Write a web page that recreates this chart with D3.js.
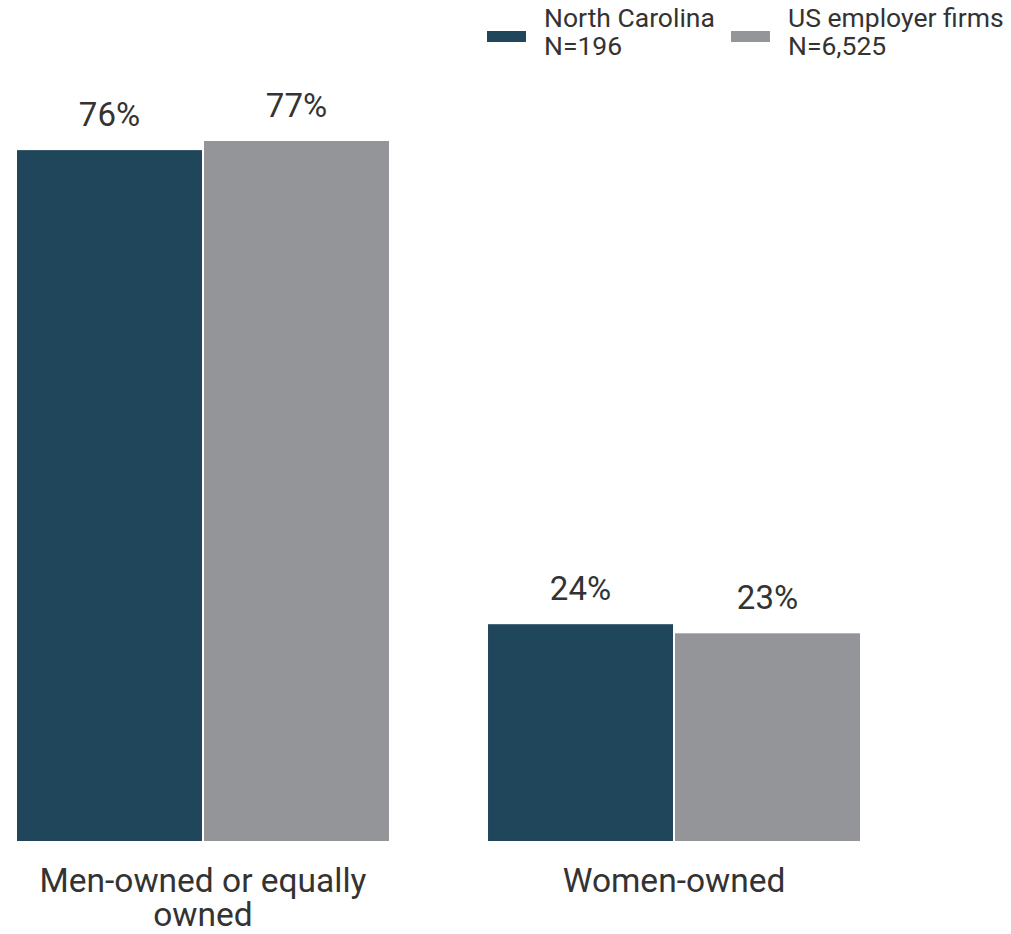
<!DOCTYPE html>
<html>
<head>
<meta charset="utf-8">
<script src="https://cdn.jsdelivr.net/npm/d3@7"></script>
<style>
  html, body { margin: 0; padding: 0; background: #fff; }
  svg { display: block; }
</style>
</head>
<body>
<svg id="chart" width="1011" height="934"></svg>
<script>
const categories = [["Men-owned or equally", "owned"], ["Women-owned"]];
const categoryKeys = ["Men-owned or equally owned", "Women-owned"];
const seriesNames = ["North Carolina", "US employer firms"];
const seriesN = ["N=196", "N=6,525"];
const northCarolina = [76, 24];
const usEmployerFirms = [77, 23];
const colors = ["#20465c", "#939598"];

const svg = d3.select("#chart");
const series = [northCarolina, usEmployerFirms];

const x0 = d3.scaleBand().domain(categoryKeys).range([16, 861]).paddingInner(0.206).paddingOuter(0);
const x1 = d3.scaleBand().domain(seriesNames).range([0, x0.bandwidth()]);
const y = d3.scaleLinear().domain([0, 77]).range([842, 140]);

const groups = svg.selectAll("g.grp").data(categoryKeys).join("g")
  .attr("class", "grp")
  .attr("transform", d => `translate(${x0(d)},0)`);

groups.each(function(cat, ci) {
  const g = d3.select(this);
  seriesNames.forEach((s, si) => {
    const v = series[si][ci];
    g.append("rect")
      .attr("x", x1(s))
      .attr("y", y(v))
      .attr("width", x1.bandwidth())
      .attr("height", y(0) - y(v))
      .attr("fill", colors[si])
      .attr("stroke", "#fff")
      .attr("stroke-width", 2);
    g.append("text")
      .attr("x", x1(s) + x1.bandwidth() / 2)
      .attr("y", y(v) - 23)
      .attr("text-anchor", "middle")
      .attr("font-family", "Roboto, sans-serif")
      .attr("font-size", 33)
      .attr("fill", "#333")
      .text(v + "%");
  });
  const lbl = g.append("text")
    .attr("x", x0.bandwidth() / 2)
    .attr("y", 892)
    .attr("text-anchor", "middle")
    .attr("font-family", "Roboto, sans-serif")
    .attr("font-size", 33.5)
    .attr("fill", "#333");
  categories[ci].forEach((line, li) => {
    lbl.append("tspan").attr("x", x0.bandwidth() / 2).attr("dy", li === 0 ? 0 : 34).text(line);
  });
});

// Legend
const legendX = [487, 731];
seriesNames.forEach((s, i) => {
  const lg = svg.append("g").attr("transform", `translate(${legendX[i]},0)`);
  lg.append("rect").attr("x", 0).attr("y", 31).attr("width", 39).attr("height", 11).attr("fill", colors[i]);
  const t = lg.append("text")
    .attr("x", 57).attr("y", 27)
    .attr("font-family", "Roboto, sans-serif")
    .attr("font-size", 26.5)
    .attr("fill", "#333");
  t.append("tspan").attr("x", 57).attr("dy", 0).text(s);
  t.append("tspan").attr("x", 57).attr("dy", 28).text(seriesN[i]);
});
</script>
</body>
</html>
